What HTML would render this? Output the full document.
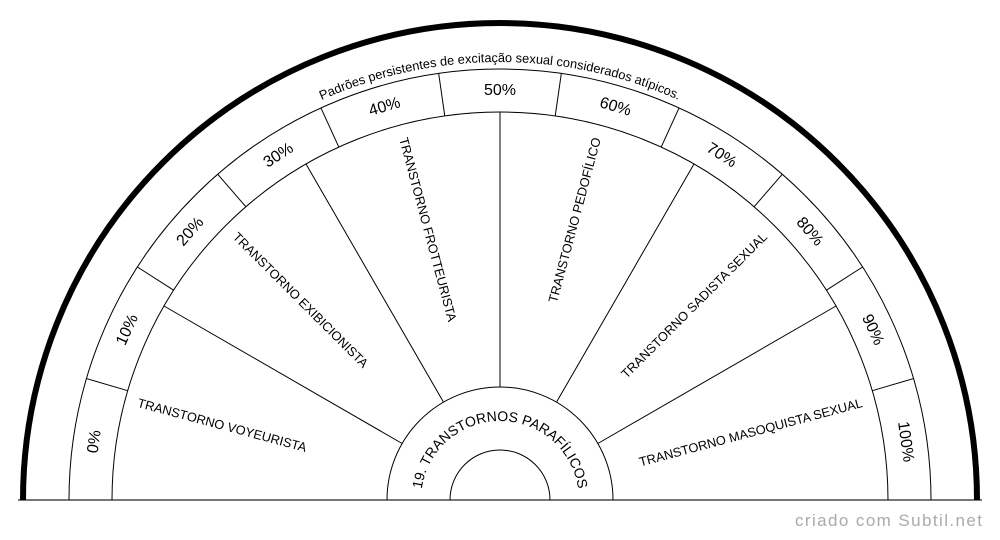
<!DOCTYPE html>
<html><head><meta charset="utf-8"><style>
html,body{margin:0;padding:0;background:#fff;}
svg{display:block;font-family:"Liberation Sans",Arial,sans-serif;}
</style></head><body>
<svg width="1000" height="540" viewBox="0 0 1000 540" xmlns="http://www.w3.org/2000/svg">
<defs>
<path id="topArc" d="M 62 500 A 438 438 0 0 1 938 500"/>
<path id="cArc" d="M 421 500 A 79 79 0 0 1 579 500"/>
</defs>
<line x1="18" y1="500" x2="982" y2="500" stroke="#777" stroke-width="2"/>
<path d="M 23 500 A 477 477 0 0 1 977 500" fill="none" stroke="#000" stroke-width="6"/>
<g fill="none" stroke="#000" stroke-width="1">
<path d="M 69 500 A 431 431 0 0 1 931 500"/>
<path d="M 112 500 A 388 388 0 0 1 888 500"/>
<path d="M 387 500 A 113 113 0 0 1 613 500"/>
<path d="M 450 500 A 50 50 0 0 1 550 500"/>
</g>
<g id="lines" stroke="#000" stroke-width="1"></g>
<text font-size="12.8" fill="#000"><textPath href="#topArc" startOffset="50%" text-anchor="middle">Padrões persistentes de excitação sexual considerados atípicos.</textPath></text>
<text font-size="14" fill="#000"><textPath href="#cArc" startOffset="50%" text-anchor="middle">19. TRANSTORNOS PARAFÍLICOS</textPath></text>
<g id="pct" font-size="16" fill="#000" text-anchor="middle"></g>
<g id="sec" font-size="12.8" fill="#000"></g>
<text x="982" y="526" font-size="17" fill="#aaa" text-anchor="end" textLength="187">criado com Subtil.net</text>
<script>
var ns="http://www.w3.org/2000/svg",cx=500,cy=500;
function P(r,a){a=a*Math.PI/180;return [cx+r*Math.cos(a),cy-r*Math.sin(a)];}
var L=document.getElementById("lines");
function line(r1,r2,a){var p=P(r1,a),q=P(r2,a),l=document.createElementNS(ns,"line");
l.setAttribute("x1",p[0]);l.setAttribute("y1",p[1]);l.setAttribute("x2",q[0]);l.setAttribute("y2",q[1]);L.appendChild(l);}
for(var i=1;i<11;i++)line(388,431,i*180/11);
for(var i=1;i<6;i++)line(113,388,i*30);
var G=document.getElementById("pct");
for(var i=0;i<11;i++){var a=180-(i+0.5)*180/11,p=P(410,a),t=document.createElementNS(ns,"text");
t.setAttribute("transform","translate("+p[0]+","+p[1]+") rotate("+(90-a)+")");t.setAttribute("y","5");t.textContent=(i*10)+"%";G.appendChild(t);}
var names=["TRANSTORNO VOYEURISTA","TRANSTORNO EXIBICIONISTA","TRANSTORNO FROTTEURISTA","TRANSTORNO PEDOFÍLICO","TRANSTORNO SADISTA SEXUAL","TRANSTORNO MASOQUISTA SEXUAL"];
var S=document.getElementById("sec");
for(var i=0;i<6;i++){var a=165-i*30,p=P(375,a),left=a>90,rot=left?180-a:-a,t=document.createElementNS(ns,"text");
t.setAttribute("transform","translate("+p[0]+","+p[1]+") rotate("+rot+")");t.setAttribute("y","4");
t.setAttribute("text-anchor",left?"start":"end");t.textContent=names[i];S.appendChild(t);}
</script>
</svg>
</body></html>
